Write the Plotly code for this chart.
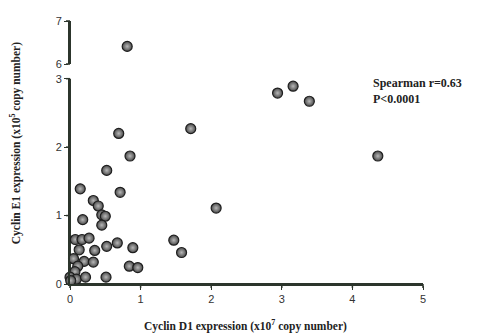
import plotly.graph_objects as go

# Cyclin D1 (x10^7) and Cyclin E1 (x10^5) expression values
cyclin_d1 = [0.81, 1.71, 0.69, 0.85, 0.52, 2.94, 3.16, 3.39, 4.36, 2.07, 1.47, 1.58,
             0.145, 0.71, 0.33, 0.40, 0.45, 0.50, 0.18, 0.45, 0.075, 0.17, 0.27,
             0.13, 0.35, 0.52, 0.67, 0.89, 0.05, 0.20, 0.33, 0.11, 0.84, 0.96,
             0.07, 0.0, 0.09, 0.22, 0.51, 0.01]
cyclin_e1 = [6.41, 2.27, 2.20, 1.87, 1.66, 2.79, 2.89, 2.67, 1.87, 1.11, 0.64, 0.46,
             1.39, 1.34, 1.22, 1.14, 1.01, 0.99, 0.94, 0.86, 0.65, 0.65, 0.67,
             0.50, 0.49, 0.55, 0.60, 0.53, 0.37, 0.33, 0.32, 0.26, 0.26, 0.24,
             0.18, 0.10, 0.07, 0.10, 0.10, 0.05]

x_ticks = [0, 1, 2, 3, 4, 5]
y_low_ticks = [0, 1, 2, 3]
y_high_ticks = [6, 7]

x_range = [0, 5]
y_low_range = [0, 3]
y_high_range = [6, 7]

low_x = [x for x, y in zip(cyclin_d1, cyclin_e1) if y <= 3]
low_y = [y for y in cyclin_e1 if y <= 3]
high_x = [x for x, y in zip(cyclin_d1, cyclin_e1) if y > 3]
high_y = [y for y in cyclin_e1 if y > 3]

marker = dict(size=10, color='#4a4a4a', gradient=dict(type='radial', color='#b8b8b8'),
              line=dict(color='#1e1e1e', width=1.2))

fig = go.Figure()
fig.add_trace(go.Scatter(x=low_x, y=low_y, mode='markers', marker=marker,
                         xaxis='x', yaxis='y', cliponaxis=False, showlegend=False))
fig.add_trace(go.Scatter(x=high_x, y=high_y, mode='markers', marker=marker,
                         xaxis='x', yaxis='y2', cliponaxis=False, showlegend=False))

line_col = '#2c352c'
tick_font = dict(family='Liberation Sans', size=11, color='#333333')
axis_common = dict(showgrid=False, zeroline=False, showline=True, linecolor=line_col,
                   linewidth=2, ticks='outside', ticklen=4, tickcolor=line_col,
                   tickfont=tick_font)

W, H = 476, 328
L, R, T, B = 62, 61, 7, 52
pw, ph = W - L - R, H - T - B
low_dom = [0, 210 / 269]
high_dom = [225 / 269, 1]


def to_paper(v, rng, dom):
    return dom[0] + (v - rng[0]) / (rng[1] - rng[0]) * (dom[1] - dom[0])


shapes = []
# axis lines (frame), in paper coordinates derived from axis domains
shapes.append(dict(type='line', xref='paper', yref='paper', x0=0, x1=1, y0=0, y1=0,
                   line=dict(color=line_col, width=2), layer='below'))
for dom in (low_dom, high_dom):
    shapes.append(dict(type='line', xref='paper', yref='paper', x0=0, x1=0,
                       y0=dom[0], y1=dom[1], line=dict(color=line_col, width=2), layer='below'))
# tick marks derived from tick lists and axis ranges
for t in x_ticks:
    px = to_paper(t, x_range, [0, 1])
    shapes.append(dict(type='line', xref='paper', yref='paper', x0=px, x1=px,
                       y0=0, y1=-4 / ph, line=dict(color=line_col, width=1.5), layer='below'))
for ticks, rng, dom in ((y_low_ticks, y_low_range, low_dom), (y_high_ticks, y_high_range, high_dom)):
    for t in ticks:
        py = to_paper(t, rng, dom)
        shapes.append(dict(type='line', xref='paper', yref='paper', x0=0, x1=-4 / pw,
                           y0=py, y1=py, line=dict(color=line_col, width=1.5), layer='below'))

fig.update_layout(
    width=W, height=H,
    margin=dict(l=L, r=R, t=T, b=B),
    paper_bgcolor='white', plot_bgcolor='rgba(0,0,0,0)',
    xaxis=dict(range=x_range, tickvals=x_ticks, anchor='y', **axis_common),
    yaxis=dict(range=y_low_range, tickvals=y_low_ticks, domain=low_dom, anchor='x', **axis_common),
    yaxis2=dict(range=y_high_range, tickvals=y_high_ticks, domain=high_dom, anchor='x', **axis_common),
    shapes=shapes,
    annotations=[
        dict(text='<b>Spearman r=0.63<br>P<0.0001</b>', xref='paper', yref='paper',
             x=(371 - 70) / pw, y=(269 - 54) / ph, xanchor='left', yanchor='top',
             align='left', showarrow=False,
             font=dict(family='Liberation Serif', size=12, color='#222222')),
        dict(text='<b>Cyclin D1 expression (x10<sup>7</sup> copy number)</b>', xref='paper', yref='paper',
             x=(245 - 70) / pw, y=-(326 - 284) / ph, xanchor='center', yanchor='middle',
             showarrow=False,
             font=dict(family='Liberation Serif', size=11.5, color='#222222')),
        dict(text='<b>Cyclin E1 expression (x10<sup>5</sup> copy number)</b>', xref='paper', yref='paper',
             x=-(70 - 15) / pw, y=(284 - 140) / ph, xanchor='center', yanchor='middle',
             textangle=-90, showarrow=False,
             font=dict(family='Liberation Serif', size=11.5, color='#222222')),
    ],
)

fig.write_html('out.html')
